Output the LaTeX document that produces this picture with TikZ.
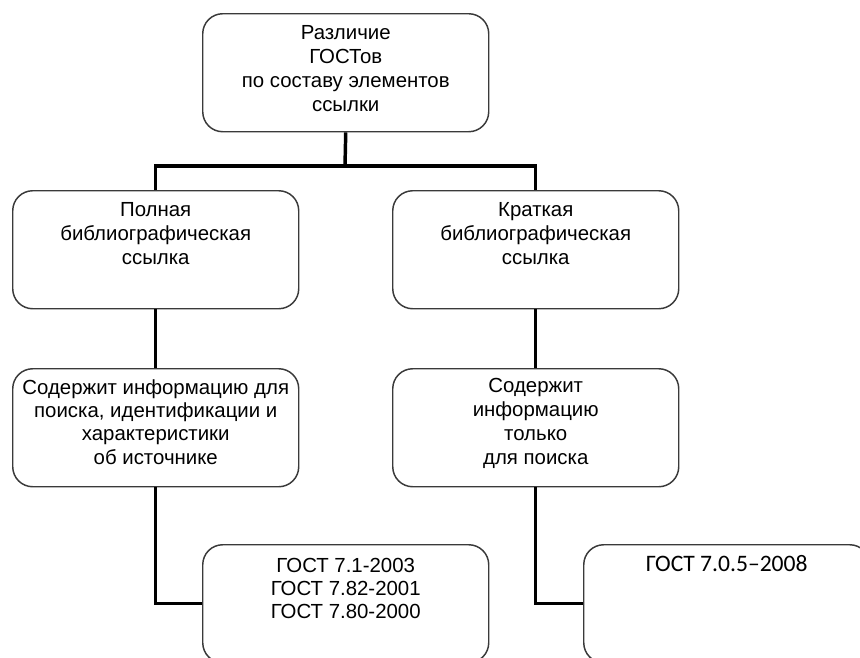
\documentclass[tikz,border=0pt]{standalone}
\usepackage{fontspec}
\setmainfont{Liberation Sans}
\newfontfamily\calib{Carlito}
\definecolor{boxgray}{HTML}{3A3A3A}
\newcommand{\boxtxt}[3][17.5pt]{\parbox[c][88.5pt][t]{214.5pt}{\centering\fontsize{15.3pt}{#1}\selectfont\rule{0pt}{#2}#3}}
\tikzset{
  box/.style={draw=boxgray, line width=1.1pt, rounded corners=15pt, inner sep=0pt, anchor=north west},
  conn/.style={draw=black, line width=2.6pt}
}
\begin{document}
\begin{tikzpicture}[x=0.75pt,y=-0.75pt]
\useasboundingbox (0,0) rectangle (860,657);
\clip (0,0) rectangle (860,657);
\node[box] (top) at (202,13) {\boxtxt[18.2pt]{19pt}{Различие\\ГОСТов\\по составу элементов\\ссылки}};
\node[box] (L1) at (12,190) {\boxtxt[18pt]{19pt}{Полная\\библиографическая\\ссылка}};
\node[box] (R1) at (392,190) {\boxtxt[18pt]{19pt}{Краткая\\библиографическая\\ссылка}};
\node[box] (L2) at (12,368) {\boxtxt{19pt}{Содержит информацию для\\поиска, идентификации и\\характеристики\\об источнике}};
\node[box] (R2) at (392,368) {\boxtxt[18pt]{17.8pt}{Содержит\\информацию\\только\\для поиска}};
\node[box] (L3) at (202,544) {\boxtxt[17pt]{21pt}{ГОСТ 7.1-2003\\ГОСТ 7.82-2001\\ГОСТ 7.80-2000}};
\node[box] (R3) at (583,544) {\boxtxt{20pt}{\calib\fontsize{17.7pt}{20pt}\selectfont ГОСТ 7.0.5–2008}};
\coordinate (jn) at (345,166);
\draw[conn] (top.south) -- (jn);
\draw[conn] (L1.north) |- (jn) -| (R1.north);
\draw[conn] (L1.south) -- (L2.north);
\draw[conn] (R1.south) -- (R2.north);
\draw[conn] (L2.south) |- (L3.west);
\draw[conn] (R2.south) |- (R3.west);
\end{tikzpicture}
\end{document}
